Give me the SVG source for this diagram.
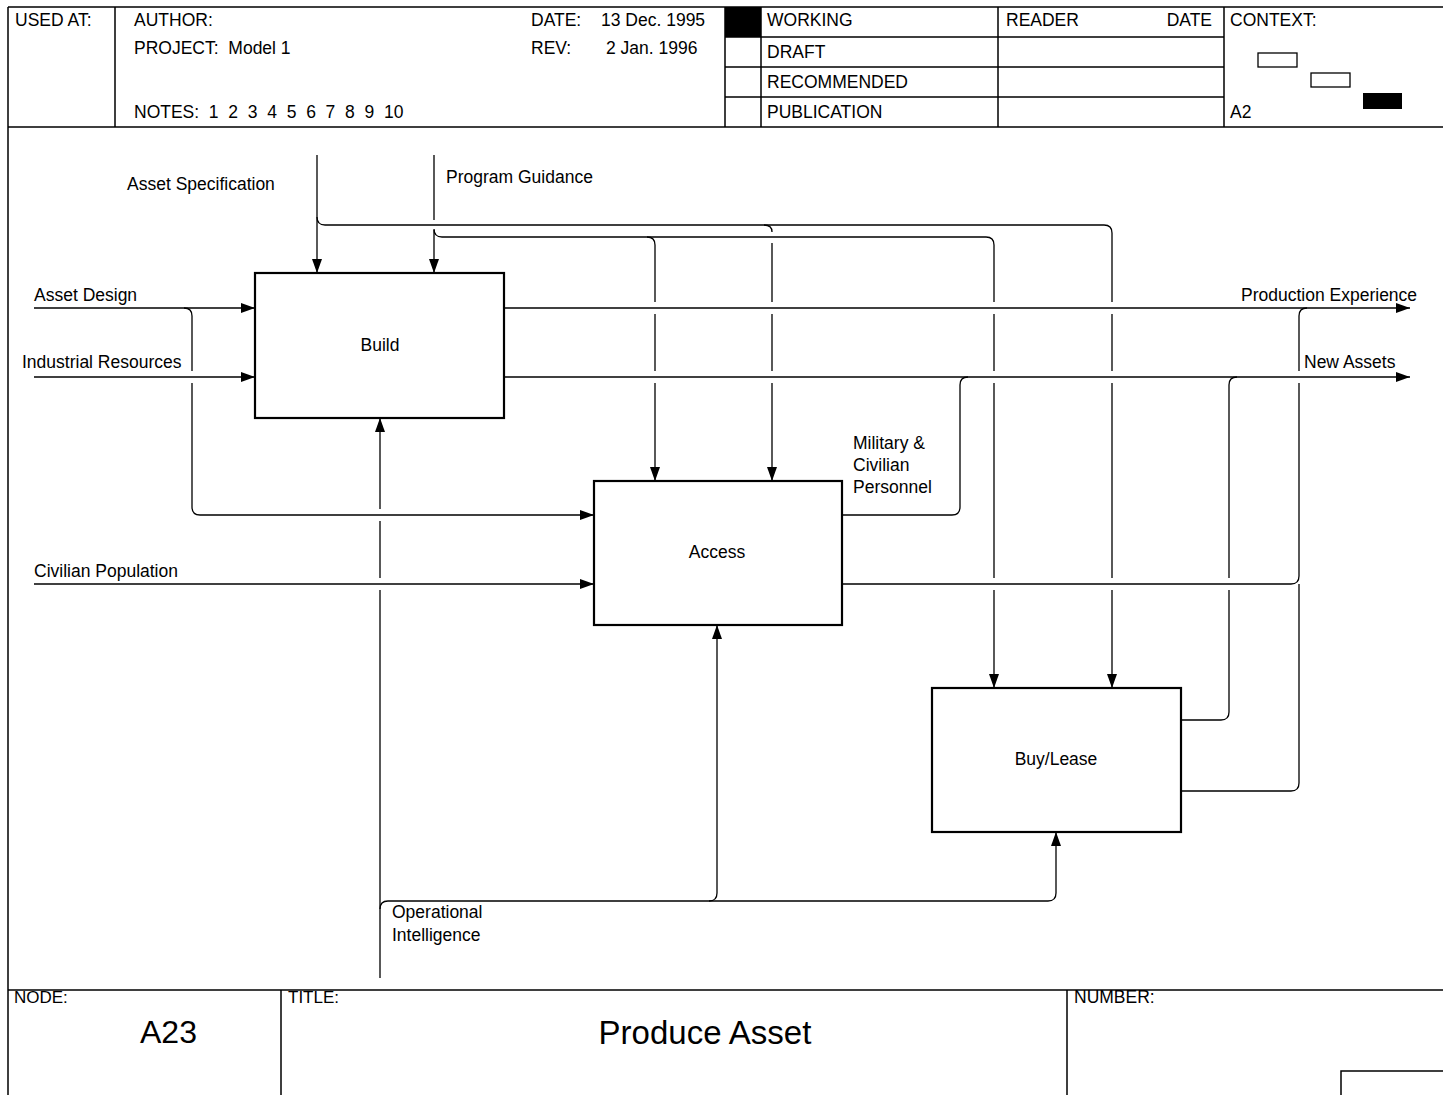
<svg xmlns="http://www.w3.org/2000/svg" width="1443" height="1095" viewBox="0 0 1443 1095">
  <style>
    text { font-family: "Liberation Sans", Arial, sans-serif; font-size: 17.5px; fill: #000; }
    .big { font-size: 32px; }
    .title { font-size: 33px; }
    .frame { stroke: #000; stroke-width: 1.5; fill: none; }
    .box { stroke: #000; stroke-width: 2.2; fill: #fff; }
    .wire { stroke: #000; stroke-width: 1.3; fill: none; }
    .mid { text-anchor: middle; }
  </style>
  <defs>
    <marker id="arr" viewBox="0 0 14 10" refX="14" refY="5" markerWidth="14" markerHeight="10" orient="auto" markerUnits="userSpaceOnUse">
      <path d="M0,0 L14,5 L0,10 z" fill="#000"/>
    </marker>
  </defs>
  <rect width="1443" height="1095" fill="#fff"/>

  <!-- header form -->
  <g id="header">
    <path class="frame" d="M8,7 H1443 M8,7 V1095 M8,127 H1443 M115,7 V127 M725,7 V127 M761,7 V127 M998,7 V127 M1224,7 V127 M725,37 H1224 M725,67 H1224 M725,97 H1224"/>
    <rect x="725" y="7" width="36" height="30" fill="#000"/>
    <text x="15" y="26">USED AT:</text>
    <text x="134" y="26">AUTHOR:</text>
    <text x="134" y="54" xml:space="preserve">PROJECT:  Model 1</text>
    <text x="134" y="118" xml:space="preserve">NOTES:  1  2  3  4  5  6  7  8  9  10</text>
    <text x="531" y="26">DATE:</text>
    <text x="601" y="26">13 Dec. 1995</text>
    <text x="531" y="54">REV:</text>
    <text x="606" y="54">2 Jan. 1996</text>
    <text x="767" y="26">WORKING</text>
    <text x="767" y="58">DRAFT</text>
    <text x="767" y="88">RECOMMENDED</text>
    <text x="767" y="118">PUBLICATION</text>
    <text x="1006" y="26">READER</text>
    <text x="1212" y="26" text-anchor="end">DATE</text>
    <text x="1230" y="26">CONTEXT:</text>
    <text x="1230" y="118">A2</text>
    <rect x="1258" y="53" width="39" height="14" fill="#fff" stroke="#000" stroke-width="1.3"/>
    <rect x="1311" y="73" width="39" height="14" fill="#fff" stroke="#000" stroke-width="1.3"/>
    <rect x="1363" y="93" width="39" height="16" fill="#000"/>
  </g>

  <!-- footer form -->
  <g id="footer">
    <path class="frame" d="M8,990 H1443 M281,990 V1095 M1067,990 V1095 M1341,1095 V1071 H1443"/>
    <text x="14" y="1003" style="font-size:17px">NODE:</text>
    <text x="140" y="1043" class="big">A23</text>
    <text x="288" y="1003" style="font-size:17px">TITLE:</text>
    <text x="705" y="1044" class="title mid">Produce Asset</text>
    <text x="1074" y="1003">NUMBER:</text>
  </g>

  <!-- arrows between activities -->
  <g id="connectors">
    <!-- Asset Specification -->
    <path class="wire" marker-end="url(#arr)" d="M317,155 V273"/>
    <path class="wire" marker-end="url(#arr)" d="M317,217 Q317,225 325,225 H1104 Q1112,225 1112,233 V302 M1112,314 V371 M1112,383 V578 M1112,590 V688"/>
    <path class="wire" marker-end="url(#arr)" d="M764,225 Q772,225 772,232 M772,243 V302 M772,314 V371 M772,383 V481"/>
    <text x="127" y="190">Asset Specification</text>

    <!-- Program Guidance -->
    <path class="wire" marker-end="url(#arr)" d="M434,155 V220 M434,230 V273"/>
    <path class="wire" marker-end="url(#arr)" d="M434,229 Q434,237 442,237 H986 Q994,237 994,245 V302 M994,314 V371 M994,383 V578 M994,590 V688"/>
    <path class="wire" marker-end="url(#arr)" d="M647,237 Q655,237 655,245 V302 M655,314 V371 M655,383 V481"/>
    <text x="446" y="183">Program Guidance</text>

    <!-- Asset Design -->
    <path class="wire" marker-end="url(#arr)" d="M34,308 H255"/>
    <path class="wire" marker-end="url(#arr)" d="M184,308 Q192,308 192,316 V371 M192,383 V507 Q192,515 200,515 H594"/>
    <text x="34" y="301">Asset Design</text>

    <!-- Industrial Resources -->
    <path class="wire" marker-end="url(#arr)" d="M34,377 H255"/>
    <text x="22" y="368">Industrial Resources</text>

    <!-- Civilian Population -->
    <path class="wire" marker-end="url(#arr)" d="M34,584 H594"/>
    <text x="34" y="577">Civilian Population</text>

    <!-- Production Experience / New Assets -->
    <path class="wire" marker-end="url(#arr)" d="M504,308 H1410"/>
    <text x="1241" y="301">Production Experience</text>
    <path class="wire" marker-end="url(#arr)" d="M504,377 H1410"/>
    <text x="1304" y="368">New Assets</text>

    <!-- Military & Civilian Personnel -->
    <path class="wire" d="M842,515 H952 Q960,515 960,507 V385 Q960,377 968,377"/>
    <text x="853" y="449">Military &amp;</text>
    <text x="853" y="471">Civilian</text>
    <text x="853" y="493">Personnel</text>

    <!-- Access and Buy/Lease feedback into outputs -->
    <path class="wire" d="M842,584 H1291 Q1299,584 1299,576 V383 M1299,371 V316 Q1299,308 1307,308"/>
    <path class="wire" d="M1181,720 H1221 Q1229,720 1229,712 V590 M1229,578 V385 Q1229,377 1237,377"/>
    <path class="wire" d="M1181,791 H1291 Q1299,791 1299,783 V584"/>

    <!-- Operational Intelligence -->
    <path class="wire" marker-end="url(#arr)" d="M380,978 V590 M380,578 V521 M380,509 V418"/>
    <path class="wire" marker-end="url(#arr)" d="M380,909 Q380,901 388,901 H1048 Q1056,901 1056,893 V832"/>
    <path class="wire" marker-end="url(#arr)" d="M709,901 Q717,901 717,893 V625"/>
    <text x="392" y="918">Operational</text>
    <text x="392" y="941">Intelligence</text>
  </g>

  <!-- activities -->
  <g id="build">
    <rect class="box" x="255" y="273" width="249" height="145"/>
    <text x="380" y="351" class="mid">Build</text>
  </g>
  <g id="access">
    <rect class="box" x="594" y="481" width="248" height="144"/>
    <text x="717" y="558" class="mid">Access</text>
  </g>
  <g id="buy-lease">
    <rect class="box" x="932" y="688" width="249" height="144"/>
    <text x="1056" y="765" class="mid">Buy/Lease</text>
  </g>
</svg>
